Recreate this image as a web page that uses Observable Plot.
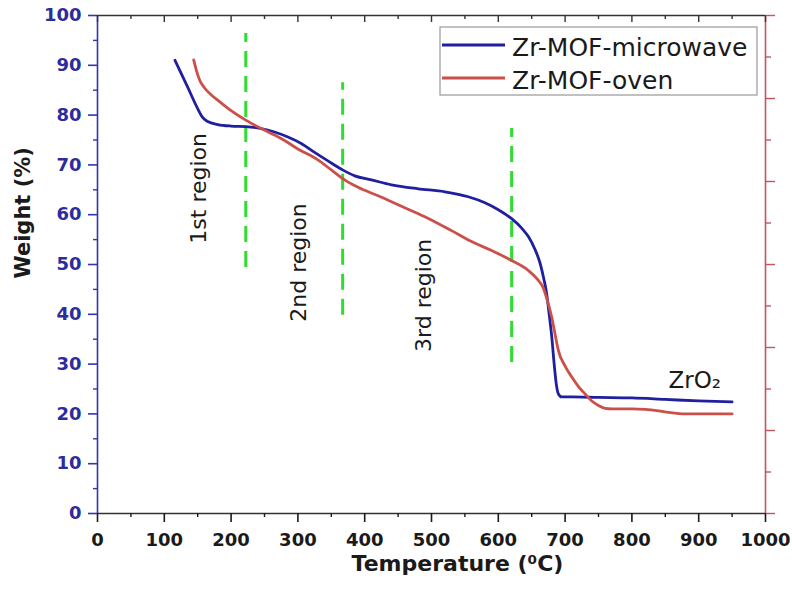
<!DOCTYPE html>
<html>
<head>
<meta charset="utf-8">
<script src="https://cdn.jsdelivr.net/npm/d3@7"></script>
<script src="https://cdn.jsdelivr.net/npm/@observablehq/plot@0.6"></script>
<style>
  body { margin: 0; background: #fff; }
  #chart { position: relative; width: 792px; height: 592px; }
</style>
</head>
<body>
<div id="chart"></div>
<script>
// ---- data ----
const seriesNames = ["Zr-MOF-microwave", "Zr-MOF-oven"];
const seriesColors = ["#1f1fa0", "#cc5049"];

const microwaveT = [116,135,150,157,165,180,200,222,245,265,285,305,325,345,367,385,410,440,480,520,555,580,600,620,635,645,655,662,668,672,676,680,684,687,690,695,710,750,800,850,900,950];
const microwaveW = [91.0,85.6,81.3,79.6,78.7,78.1,77.8,77.7,77.3,76.6,75.6,74.3,72.5,70.8,69.0,67.8,67.0,66.0,65.2,64.6,63.6,62.4,61.0,59.2,57.3,55.6,53.0,50.5,47.2,44.5,40.2,35.5,29.5,25.8,24.0,23.4,23.4,23.3,23.2,22.9,22.6,22.4];

const ovenT = [144,148,153,160,170,180,200,222,245,265,280,300,330,350,370,390,420,455,490,530,560,590,620,645,660,667,674,680,685,690,700,710,720,730,740,750,760,770,800,820,840,855,880,950];
const ovenW = [91.1,89.0,87.0,85.5,84.1,83.0,80.9,79.0,77.3,76.0,74.9,73.2,71.0,69.0,67.0,65.5,63.8,61.7,59.6,56.8,54.6,52.8,50.8,48.8,46.8,45.4,42.5,39.4,36.0,32.7,29.6,27.4,25.5,24.0,22.6,21.7,21.1,21.0,21.0,20.9,20.6,20.3,20.0,20.0];

// region dividers (green dashed)
const dividerT = [222, 367, 620];
const dividerTop = [96.4, 86.5, 77.3];
const dividerBottom = [49.4, 39.8, 30.3];

// annotations
const regionLabels = ["1st region", "2nd region", "3rd region"];
const regionT = [152, 302, 489];
const regionW = [65.3, 50.4, 43.8];
const productLabel = ["ZrO\u2082"];
const productT = [894];
const productW = [26.7];

// ticks
const xMajor = [0,100,200,300,400,500,600,700,800,900,1000];
const xMinor = [50,150,250,350,450,550,650,750,850,950];
const yMajor = [0,10,20,30,40,50,60,70,80,90,100];
const yMinor = [5,15,25,35,45,55,65,75,85,95];
const rightMajor = [0,16.667,33.333,50,66.667,83.333,100];
const rightMinor = [8.333,25,41.667,58.333,75,91.667];
const yTop = 100;

const xLabel = "Temperature (\u2070C)";
const yLabel = "Weight (%)";

// ---- build table ----
const rows = [
  ...microwaveT.map((t, i) => ({series: seriesNames[0], T: t, W: microwaveW[i]})),
  ...ovenT.map((t, i) => ({series: seriesNames[1], T: t, W: ovenW[i]}))
];
const dividers = dividerT.map((t, i) => ({T: t, top: dividerTop[i], bottom: dividerBottom[i]}));
const regions = regionLabels.map((s, i) => ({label: s, T: regionT[i], W: regionW[i]}));
const products = productLabel.map((s, i) => ({label: s, T: productT[i], W: productW[i]}));

const FONT = "DejaVu Sans, Liberation Sans, sans-serif";
const axisBlue = "#3434b0";
const tickBlue = "#2c2c9c";
const axisRed = "#c25560";
const dark = "#1a1a1a";
const plain = d => String(d);

const svg = Plot.plot({
  width: 792,
  height: 592,
  marginLeft: 97,
  marginRight: 27,
  marginTop: 15,
  marginBottom: 79,
  style: {fontFamily: FONT, background: "#fff", overflow: "visible"},
  x: {domain: [0, 1000]},
  y: {domain: [0, 100]},
  color: {domain: seriesNames, range: seriesColors},
  marks: [
    // frame lines
    Plot.ruleY([yTop], {stroke: "#333", strokeWidth: 1.6}),
    Plot.ruleY([0], {stroke: "#333", strokeWidth: 1.6}),
    Plot.ruleX([0], {stroke: axisBlue, strokeWidth: 1.6}),
    Plot.ruleX([1000], {stroke: axisRed, strokeWidth: 1.6}),
    // bottom axis
    Plot.axisX({ticks: xMajor, tickFormat: plain, tickSize: 9, tickPadding: 11, fontSize: 18, fontWeight: "bold", color: dark, strokeWidth: 1.6, label: null}),
    Plot.axisX({ticks: xMinor, tickSize: 4, tickFormat: () => "", color: dark, strokeWidth: 1.4, label: null}),
    // top (inward) ticks
    Plot.ruleX(xMajor, {x: d => d, y1: yTop, y2: yTop, insetBottom: -7, stroke: "#333", strokeWidth: 1.4}),
    Plot.ruleX(xMinor, {x: d => d, y1: yTop, y2: yTop, insetBottom: -4, stroke: "#333", strokeWidth: 1.4}),
    // left axis
    Plot.axisY({ticks: yMajor, tickFormat: plain, tickSize: 9, tickPadding: 7, fontSize: 18, fontWeight: "bold", stroke: axisBlue, fill: tickBlue, strokeWidth: 1.6, label: null}),
    Plot.axisY({ticks: yMinor, tickSize: 4, tickFormat: () => "", stroke: axisBlue, strokeWidth: 1.4, label: null}),
    // right axis (no labels)
    Plot.axisY({anchor: "right", ticks: rightMajor, tickSize: 9, tickFormat: () => "", stroke: axisRed, strokeWidth: 1.4, label: null}),
    Plot.axisY({anchor: "right", ticks: rightMinor, tickSize: 5, tickFormat: () => "", stroke: axisRed, strokeWidth: 1.4, label: null}),
    // dividers
    Plot.ruleX(dividers, {x: "T", y1: "bottom", y2: "top", stroke: "#2fdc2f", strokeWidth: 3, strokeDasharray: "16,9"}),
    // curves
    Plot.line(rows, {x: "T", y: "W", z: "series", stroke: "series", strokeWidth: 2.8, curve: "monotone-x"}),
    // annotations
    Plot.text(regions, {x: "T", y: "W", text: "label", rotate: -90, fontSize: 22, fill: "#1a1a1a"}),
    Plot.text(products, {x: "T", y: "W", text: "label", fontSize: 23, fill: "#1a1a1a"}),
    // axis titles
    Plot.text([yLabel], {frameAnchor: "left", text: d => d, rotate: -90, dx: -74, dy: 14, fontSize: 21, fontWeight: "bold", fill: dark}),
    Plot.text([xLabel], {frameAnchor: "bottom", text: d => d, dx: 26, dy: 57, fontSize: 22, fontWeight: "bold", fill: dark})
  ]
});

// ---- legend (inside the plot, top-right) ----
const sel = d3.select(svg);
const lg = sel.append("g").attr("font-family", FONT).attr("text-anchor", "start");
lg.append("rect")
  .attr("x", 440).attr("y", 27).attr("width", 317).attr("height", 68)
  .attr("fill", "#fff").attr("stroke", "#a0a0a0").attr("stroke-width", 1.3);
seriesNames.forEach((name, i) => {
  const cy = 45 + i * 33;
  lg.append("line")
    .attr("x1", 442).attr("x2", 505).attr("y1", cy).attr("y2", cy)
    .attr("stroke", seriesColors[i]).attr("stroke-width", 3);
  lg.append("text")
    .attr("x", 512).attr("y", cy + 2).attr("dy", "0.35em")
    .attr("text-anchor", "start")
    .attr("font-size", 25).attr("fill", "#1a1a1a")
    .text(name);
});

document.getElementById("chart").appendChild(svg);
</script>
</body>
</html>
